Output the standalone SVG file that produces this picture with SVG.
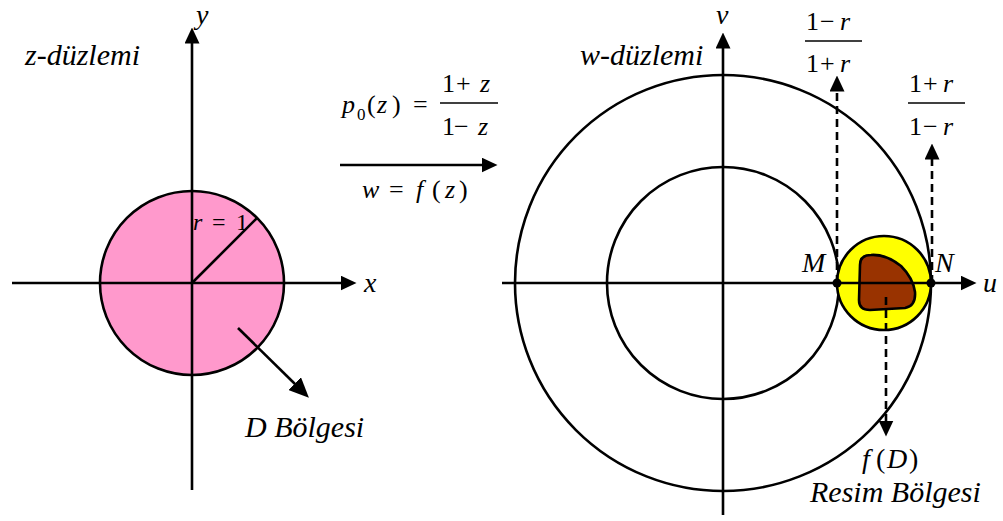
<svg xmlns="http://www.w3.org/2000/svg" width="1003" height="521" viewBox="0 0 1003 521">
<style>
.ln{stroke:#000;stroke-width:2.6;fill:none}
.ds{stroke:#000;stroke-width:2.6;fill:none;stroke-dasharray:8 5}
text{font-family:Liberation Serif,Times New Roman,Times,Tinos,Noto Serif,DejaVu Serif,serif;fill:#000}
.i{font-style:italic}
.lab{font-size:30px}
.m{font-size:26px}
</style>
<defs>
<marker id="ah" viewBox="0 0 16 15" markerWidth="16" markerHeight="15" refX="0.5" refY="7.5" markerUnits="userSpaceOnUse" orient="auto">
<path d="M0,0 L16,7.5 L0,15 Z" fill="#000"/>
</marker>
<marker id="ahL" viewBox="0 0 20 18" markerWidth="20" markerHeight="18" refX="0.5" refY="9" markerUnits="userSpaceOnUse" orient="auto">
<path d="M0,0 L20,9 L0,18 Z" fill="#000"/>
</marker>
</defs>
<rect width="1003" height="521" fill="#fff"/>

<g id="z-plane">
<circle id="D-region" cx="192" cy="283" r="92" fill="#FF99CC" stroke="#000" stroke-width="2.6"/>
<line class="ln" x1="192" y1="283" x2="257" y2="218"/>
<text class="i" x="193" y="230" font-size="24">r</text>
<text x="212" y="230" font-size="24">=</text>
<text x="236" y="230" font-size="24">1</text>
<text class="i lab" x="25" y="65">z-düzlemi</text>
<text class="i" x="196" y="24" font-size="28">y</text>
<text class="i" x="364" y="292" font-size="28">x</text>
<text class="i lab" x="245" y="437">D Bölgesi</text>
</g>

<g id="mapping">
<text class="i m" x="342" y="113">p</text>
<text x="357" y="120" font-size="17">0</text>
<text class="m" x="367" y="113">(</text>
<text class="i m" x="377" y="113">z</text>
<text class="m" x="392" y="113">)</text>
<text class="m" x="413" y="113">=</text>
<line x1="440" y1="103" x2="498" y2="103" stroke="#000" stroke-width="1.6"/>
<text class="m" x="442" y="92">1</text>
<text class="m" x="456" y="92">+</text>
<text class="i m" x="480" y="92">z</text>
<text class="m" x="442" y="135">1</text>
<text class="m" x="454" y="135">−</text>
<text class="i m" x="478" y="135">z</text>
<text class="i m" x="362" y="198">w</text>
<text class="m" x="389" y="198">=</text>
<text class="i m" x="416" y="198">f</text>
<text class="m" x="432" y="198">(</text>
<text class="i m" x="445" y="198">z</text>
<text class="m" x="459" y="198">)</text>
</g>

<g id="w-plane">
<circle cx="723" cy="283" r="208" class="ln"/>
<circle cx="723" cy="283" r="116" class="ln"/>
<circle id="image-region" cx="884" cy="283" r="47" fill="#FFFF00" stroke="#000" stroke-width="2.6"/>
<path id="fD" d="M860,265 Q860,255 871,255 Q886,254 901,266 Q913,278 915,292 Q916,306 905,308 L870,310 Q859,310 859,300 Z" fill="#993300" stroke="#000" stroke-width="2.6"/>
<text class="i lab" x="580" y="65">w-düzlemi</text>
<text class="i" x="716" y="24" font-size="28">v</text>
<text class="i" x="983" y="292" font-size="28">u</text>
<text class="i" x="802" y="272" font-size="28">M</text>
<text class="i" x="935" y="272" font-size="28">N</text>
<text class="i" x="862" y="468" font-size="28">f</text>
<text x="876" y="468" font-size="28">(</text>
<text class="i" x="887" y="468" font-size="28">D</text>
<text x="909" y="468" font-size="28">)</text>
<text class="i lab" x="810" y="502">Resim Bölgesi</text>
<line x1="805" y1="41" x2="862" y2="41" stroke="#000" stroke-width="1.6"/>
<text class="m" x="806" y="30">1</text>
<text class="m" x="820" y="30">−</text>
<text class="i m" x="840" y="30">r</text>
<text class="m" x="806" y="72">1</text>
<text class="m" x="820" y="72">+</text>
<text class="i m" x="840" y="72">r</text>
<line x1="908" y1="103" x2="965" y2="103" stroke="#000" stroke-width="1.6"/>
<text class="m" x="909" y="92">1</text>
<text class="m" x="923" y="92">+</text>
<text class="i m" x="943" y="92">r</text>
<text class="m" x="909" y="135">1</text>
<text class="m" x="923" y="135">−</text>
<text class="i m" x="943" y="135">r</text>
</g>

<g id="connectors">
<line class="ln" x1="12" y1="283" x2="341" y2="283" marker-end="url(#ah)"/>
<line class="ln" x1="192" y1="490" x2="192" y2="43" marker-end="url(#ah)"/>
<line class="ln" x1="238" y1="328" x2="295" y2="384" marker-end="url(#ahL)"/>
<line class="ln" x1="340" y1="165" x2="482" y2="165" marker-end="url(#ah)"/>
<line class="ln" x1="502" y1="283" x2="961" y2="283" marker-end="url(#ah)"/>
<line class="ln" x1="723" y1="515" x2="723" y2="48" marker-end="url(#ah)"/>
<line class="ds" x1="837" y1="283" x2="837" y2="91" marker-end="url(#ah)"/>
<line class="ds" x1="932" y1="283" x2="932" y2="159" marker-end="url(#ah)"/>
<line class="ds" x1="886" y1="297" x2="886" y2="421" marker-end="url(#ah)"/>
<circle cx="837" cy="283" r="4.5" fill="#000"/>
<circle cx="931" cy="283" r="4.5" fill="#000"/>
</g>
</svg>
